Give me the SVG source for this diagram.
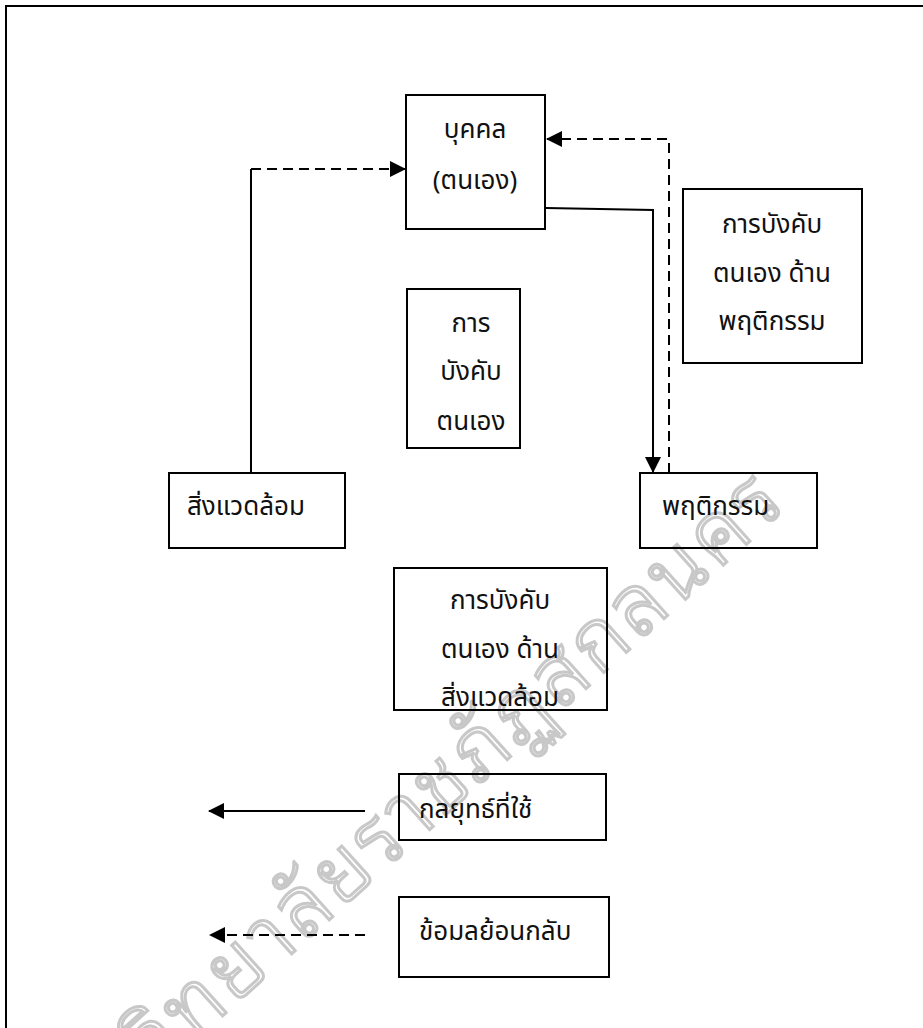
<svg xmlns="http://www.w3.org/2000/svg" width="923" height="1028" viewBox="0 0 923 1028">
<style>
.box{fill:none;stroke:#000;stroke-width:2}
.t{font-family:"Noto Sans Thai","Noto Sans",sans-serif;font-size:26px;fill:#111}
.c{text-anchor:middle}
.ln{fill:none;stroke:#000;stroke-width:2}
.ds{fill:none;stroke:#000;stroke-width:2;stroke-dasharray:10 6}
.wm{font-family:"Noto Sans Thai Looped","Noto Serif Thai","Noto Sans Thai",serif;font-size:84px;font-weight:300;fill:#fff;stroke:#c8c8c8;stroke-width:3;letter-spacing:4px}
</style>
<defs>
<marker id="ah" markerUnits="userSpaceOnUse" markerWidth="16" markerHeight="16" viewBox="0 0 16 16" refX="15" refY="8" orient="auto">
<path d="M0,0 L16,8 L0,16 Z" fill="#000"/>
</marker>
</defs>
<rect x="0" y="0" width="923" height="1028" fill="#fff"/>
<rect x="6" y="6" width="1000" height="1100" fill="none" stroke="#000" stroke-width="2"/>
<text class="wm" transform="translate(790,505) rotate(-42)" text-anchor="end">มหาวิทยาลัยราชภัฏสกลนคร</text>
<g id="n-person"><rect class="box" x="406" y="95" width="139" height="134"/><text class="t c" x="475" y="138">บุคคล</text><text class="t c" x="475" y="189">(ตนเอง)</text></g>
<g id="n-selfreg"><rect class="box" x="407" y="289" width="113" height="159"/><text class="t c" x="471" y="332">การ</text><text class="t c" x="471" y="380">บังคับ</text><text class="t c" x="471" y="430">ตนเอง</text></g>
<g id="n-behavreg"><rect class="box" x="683" y="189" width="179" height="174"/><text class="t c" x="772" y="233">การบังคับ</text><text class="t c" x="772" y="282">ตนเอง ด้าน</text><text class="t c" x="772" y="330">พฤติกรรม</text></g>
<g id="n-env"><rect class="box" x="169" y="473" width="176" height="75"/><text class="t" x="187" y="515">สิ่งแวดล้อม</text></g>
<g id="n-behav"><rect class="box" x="640" y="473" width="177" height="75"/><text class="t" x="662" y="515">พฤติกรรม</text></g>
<g id="n-envreg"><rect class="box" x="394" y="568" width="213" height="142"/><text class="t c" x="500" y="609">การบังคับ</text><text class="t c" x="500" y="658">ตนเอง ด้าน</text><text class="t c" x="500" y="706">สิ่งแวดล้อม</text></g>
<g id="n-strategy"><rect class="box" x="399" y="774" width="207" height="66"/><text class="t" x="419" y="818">กลยุทธ์ที่ใช้</text></g>
<g id="n-feedback"><rect class="box" x="399" y="897" width="210" height="80"/><text class="t" x="419" y="940">ข้อมลย้อนกลับ</text></g>
<g id="connectors">
<path class="ln" d="M251,473 L251,169"/>
<path class="ds" d="M251,169 L405,169" marker-end="url(#ah)"/>
<path class="ln" d="M546,208 L653,210 L653,472" marker-end="url(#ah)"/>
<path class="ds" d="M669,473 L669,139 L547,139" marker-end="url(#ah)"/>
<path class="ln" d="M365,811 L209,811" marker-end="url(#ah)"/>
<path class="ds" d="M365,935 L210,935" marker-end="url(#ah)"/>
</g>
</svg>
